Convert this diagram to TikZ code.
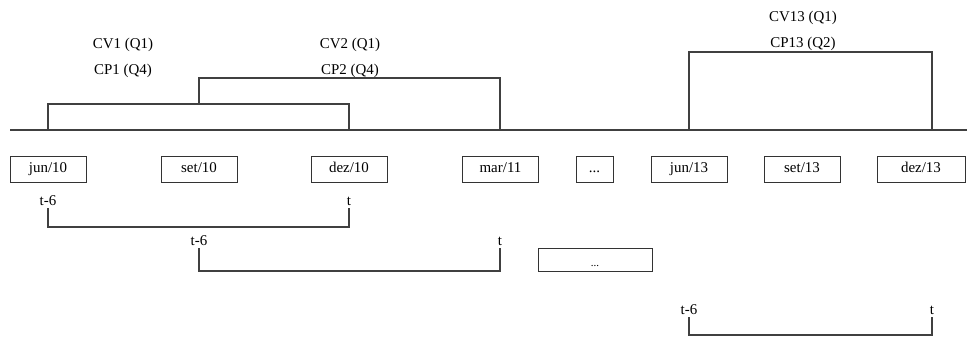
\documentclass[tikz,border=0pt]{standalone}
\usepackage{fontspec}
\setmainfont{Liberation Serif}
\usetikzlibrary{positioning}
\tikzset{
  mes/.style={draw=black!80, line width=1pt, minimum width=76bp, minimum height=26bp,
    inner sep=0pt, text height=10bp, text depth=3bp, font=\fontsize{15}{17}\selectfont},
  rot/.style={inner sep=2.5bp, text height=10bp, text depth=0pt, font=\fontsize{15}{17}\selectfont},
  traco/.style={draw=black!75, line width=1.2pt},
}
\begin{document}
\begin{tikzpicture}[x=1bp, y=-1bp]
  \useasboundingbox (0,0) rectangle (967,338);
  % eixo do tempo
  \draw[traco, line width=1.4pt] (10,130) -- (967,130);
  % janelas de cima
  \draw[traco] (48,130) |- (349,104) -- (349,130);
  \draw[traco] (199,104) |- (500,78) -- (500,130);
  \draw[traco] (689,130) |- (932,52) -- (932,130);
  \node[rot] (cv1) at (123,43.5) {CV1 (Q1)};
  \node[rot] (cp1) at (123,69.5) {CP1 (Q4)};
  \node[rot] (cv2) at (350,43.5) {CV2 (Q1)};
  \node[rot] (cp2) at (350,69.5) {CP2 (Q4)};
  \node[rot] (cv13) at (803,16) {CV13 (Q1)};
  \node[rot] (cp13) at (803,42.5) {CP13 (Q2)};
  % trimestres
  \node[mes] (jun10) at (48,169) {jun/10};
  \node[mes] (set10) at (199,169) {set/10};
  \node[mes] (dez10) at (349,169) {dez/10};
  \node[mes] (mar11) at (500.5,169) {mar/11};
  \node[mes, minimum width=37bp] (ret1) at (594.5,169) {...};
  \node[mes] (jun13) at (689,169) {jun/13};
  \node[mes] (set13) at (802,169) {set/13};
  \node[mes, minimum width=88bp] (dez13) at (921,169) {dez/13};
  % janelas de baixo
  \node[rot, anchor=south] (a1) at (48,208) {t-6};
  \node[rot, anchor=south] (b1) at (349,208) {t};
  \draw[traco] (a1.south) -- (48,227) -| (b1.south);
  \node[rot, anchor=south] (a2) at (199,248) {t-6};
  \node[rot, anchor=south] (b2) at (500,248) {t};
  \draw[traco] (a2.south) -- (199,271) -| (b2.south);
  \node[mes, minimum width=114bp, minimum height=23bp, text height=12bp, text depth=0pt, font=\fontsize{11}{13}\selectfont] (ret2) at (595,260) {...};
  \node[rot, anchor=south] (a3) at (689,317) {t-6};
  \node[rot, anchor=south] (b3) at (932,317) {t};
  \draw[traco] (a3.south) -- (689,335) -| (b3.south);
\end{tikzpicture}
\end{document}
